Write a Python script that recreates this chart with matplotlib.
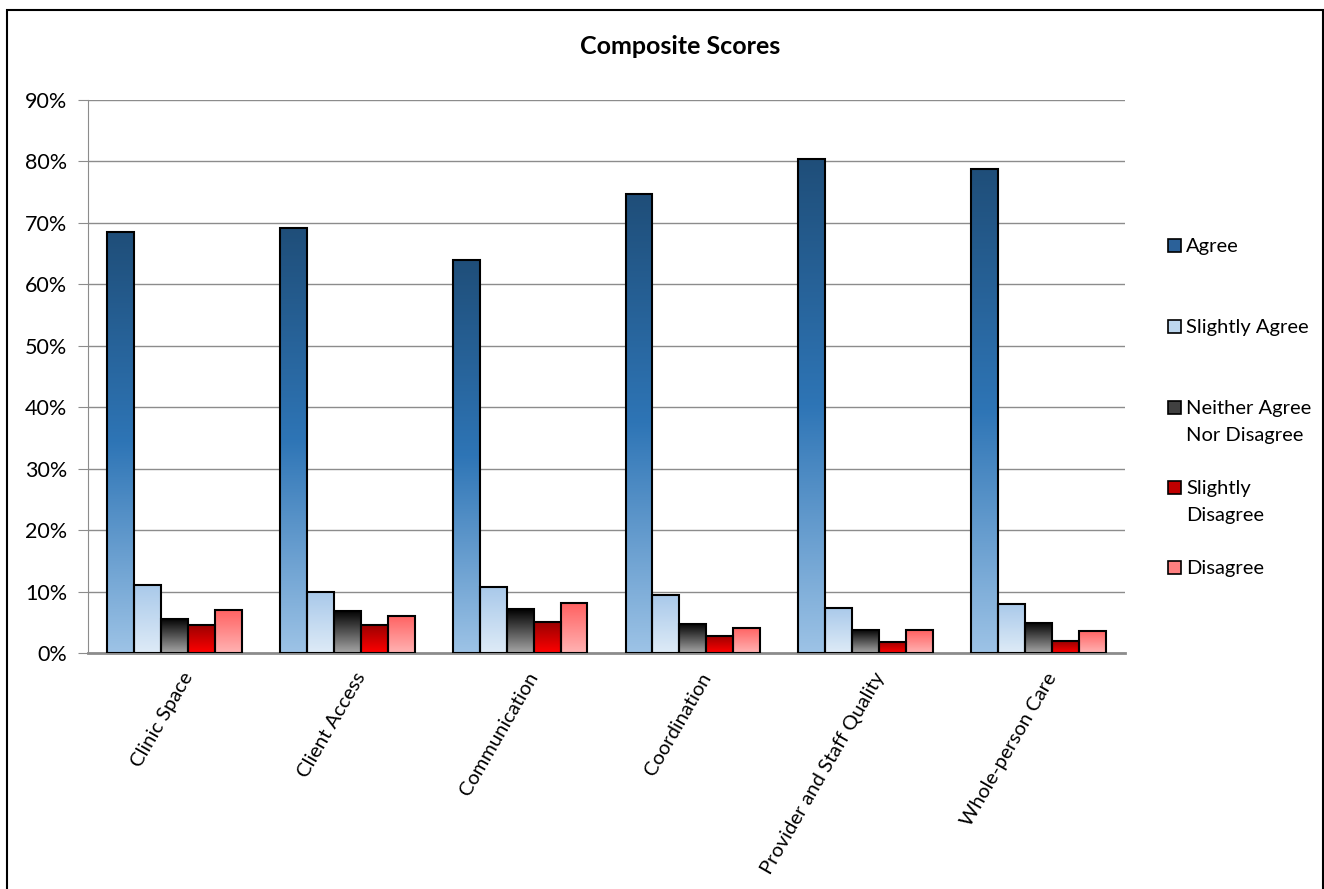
import numpy as np
import matplotlib
matplotlib.use('Agg')
from matplotlib import pyplot as plt
from matplotlib.colors import LinearSegmentedColormap
from matplotlib.patches import Rectangle

plt.rcParams['font.family'] = ['Lato', 'DejaVu Sans']

categories = ['Clinic Space', 'Client Access', 'Communication', 'Coordination',
              'Provider and Staff Quality', 'Whole-person Care']
series = ['Agree', 'Slightly Agree', 'Neither Agree\nNor Disagree', 'Slightly\nDisagree', 'Disagree']

agree = [68.5, 69.2, 64.0, 74.7, 80.4, 78.8]
slightly_agree = [11.1, 9.9, 10.7, 9.4, 7.4, 8.0]
neither = [5.6, 6.9, 7.1, 4.8, 3.8, 4.9]
slightly_disagree = [4.6, 4.6, 5.0, 2.8, 1.8, 1.9]
disagree = [7.0, 6.1, 8.1, 4.1, 3.7, 3.6]

values = [agree, slightly_agree, neither, slightly_disagree, disagree]

# gradient stops, bottom -> top
gradients = [
    ['#9DC3E6', '#2E75B6', '#1F4E79'],
    ['#DEEBF7', '#A9C9EA'],
    ['#A6A6A6', '#000000'],
    ['#FF0000', '#990000'],
    ['#FFB3B3', '#FF6161'],
]
legend_colors = ['#2B6199', '#BDD7EE', '#404040', '#C00000', '#FF8080']

fig = plt.figure(figsize=(13.24, 8.89), dpi=100)
ax = fig.add_axes([88 / 1324, 1 - 653 / 889, (1125 - 88) / 1324, (653 - 100) / 889])

x = np.arange(len(categories))
w = 0.156
grad = np.linspace(0, 1, 256).reshape(-1, 1)
for k, vals in enumerate(values):
    cmap = LinearSegmentedColormap.from_list(f'g{k}', gradients[k])
    offs = (k - 2) * w
    bars = ax.bar(x + offs, vals, w, color='none', edgecolor='black', linewidth=1.5, zorder=4)
    for b in bars:
        bx, by = b.get_x(), b.get_y()
        bw, bh = b.get_width(), b.get_height()
        im = ax.imshow(grad, cmap=cmap, origin='lower', aspect='auto',
                       extent=[bx, bx + bw, by, by + bh], zorder=3)
        im.set_clip_path(b)

ax.set_xlim(-0.5, len(categories) - 0.5)
ax.set_ylim(0, 90)
ax.set_yticks(np.arange(0, 91, 10))
ax.set_yticklabels([f'{v}%' for v in range(0, 91, 10)], fontsize=15.5)
ax.yaxis.grid(True, color='#8C8C8C', linewidth=1)
ax.set_axisbelow(True)
ax.tick_params(axis='y', length=7, color='#8C8C8C', pad=8)
ax.tick_params(axis='x', length=0, pad=12)
ax.set_xticks(x + 0.04)
ax.set_xticklabels(categories, rotation=60, ha='right', rotation_mode='anchor', fontsize=14.5)
for s in ['top', 'right']:
    ax.spines[s].set_visible(False)
ax.spines['left'].set_color('#8C8C8C')
ax.spines['bottom'].set_color('#8C8C8C')
ax.spines['bottom'].set_linewidth(2)

fig.text(680 / 1324, 1 - 46 / 889, 'Composite Scores', ha='center', va='center',
         fontsize=18, fontweight='bold')

# legend drawn by hand to match the spread-out entries
legend_y = [245, 326, 407, 487, 567]
for c, lab, ly in zip(legend_colors, series, legend_y):
    fig.patches.append(Rectangle((1168 / 1324, 1 - (ly + 7) / 889), 13 / 1324, 13 / 889,
                                 transform=fig.transFigure, facecolor=c,
                                 edgecolor='black', linewidth=1.2))
    for j, line in enumerate(lab.split('\n')):
        fig.text(1186 / 1324, 1 - (ly + 7 + 27 * j) / 889, line, ha='left', va='baseline',
                 fontsize=14.5)

fig.patches.append(Rectangle((7 / 1324, -0.01), (1323 - 7) / 1324, 1 - 10 / 889 + 0.01,
                             transform=fig.transFigure, fill=False, edgecolor='black',
                             linewidth=1.5))

fig.savefig('out.png', dpi=100)
